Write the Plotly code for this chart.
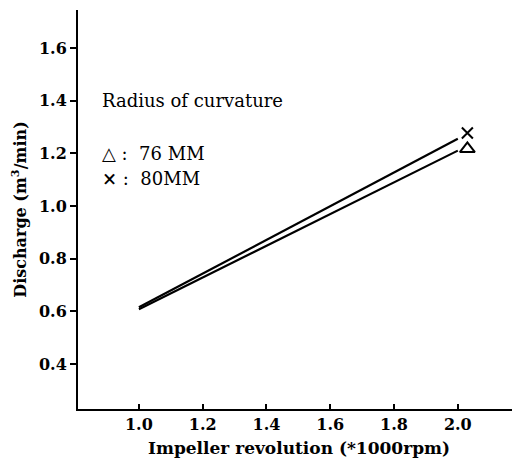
import plotly.graph_objects as go

# Data
rpm_line = [1.0, 2.0]
q_76_line = [0.608, 1.21]
q_80_line = [0.615, 1.255]
rpm_pt = [2.03]
q_76_pt = [1.217]
q_80_pt = [1.277]

x_ticks = [1.0, 1.2, 1.4, 1.6, 1.8, 2.0]
y_ticks = [0.4, 0.6, 0.8, 1.0, 1.2, 1.4, 1.6]

font_family = "DejaVu Serif, Liberation Serif, serif"

fig = go.Figure()
fig.add_trace(go.Scatter(x=rpm_line, y=q_76_line, mode="lines",
                         line=dict(color="black", width=2.2), showlegend=False))
fig.add_trace(go.Scatter(x=rpm_line, y=q_80_line, mode="lines",
                         line=dict(color="black", width=2.2), showlegend=False))
fig.add_trace(go.Scatter(x=rpm_pt, y=q_76_pt, mode="markers",
                         marker=dict(symbol="triangle-up-open", size=13, color="black",
                                     line=dict(width=2, color="black")), showlegend=False))
fig.add_trace(go.Scatter(x=rpm_pt, y=q_80_pt, mode="markers",
                         marker=dict(symbol="x-thin-open", size=11, color="black",
                                     line=dict(width=2, color="black")), showlegend=False))

ann_font = dict(family=font_family, size=18, color="black")
fig.add_annotation(x=0.879, y=1.402, text="Radius of curvature", showarrow=False,
                   xanchor="left", yanchor="middle", font=ann_font)
fig.add_annotation(x=0.879, y=1.201, text="<b>△</b> :  76 MM", showarrow=False,
                   xanchor="left", yanchor="middle", font=ann_font)
fig.add_annotation(x=0.879, y=1.106, text="<b>×</b> :  80MM", showarrow=False,
                   xanchor="left", yanchor="middle", font=ann_font)

fig.update_layout(
    width=512, height=454,
    margin=dict(l=70, r=0, t=2, b=53),
    paper_bgcolor="white", plot_bgcolor="white",
    font=dict(family=font_family, size=16, color="black"),
    xaxis=dict(range=[0.809, 2.195], tickvals=x_ticks,
               ticktext=[f"<b>{v:.1f}</b>" for v in x_ticks],
               automargin=False,
               showgrid=False, zeroline=False, showline=True, linecolor="black",
               linewidth=2, ticks="inside", ticklen=5, tickwidth=2, tickcolor="black",
               title=dict(text="<b>Impeller revolution (*1000rpm)</b>", standoff=9,
                          font=dict(size=17)),
               tickfont=dict(size=16, family=font_family)),
    yaxis=dict(range=[0.229, 1.744], tickvals=y_ticks,
               ticktext=[f"<b>{v:.1f}</b>" for v in y_ticks],
               automargin=False,
               showgrid=False, zeroline=False, showline=True, linecolor="black",
               linewidth=2, ticks="outside", ticklen=6, tickwidth=2, tickcolor="black",
               title=dict(text="<b>Discharge (m<sup>3</sup>/min)</b>", standoff=14,
                          font=dict(size=16)),
               tickfont=dict(size=16, family=font_family)),
)

fig.write_html("out.html")
